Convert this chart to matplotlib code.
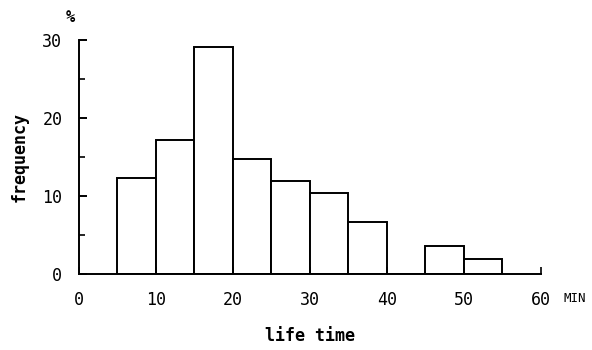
import matplotlib.pyplot as plt
import numpy as np

# life time histogram (bins of 5 min)
bin_edges = [5, 10, 15, 20, 25, 30, 35, 40, 45, 50]
bin_width = 5
freq_pct = [12.3, 17.2, 29.1, 14.7, 11.9, 10.4, 6.7, 0.0, 3.6, 1.9]
x_ticks = [0, 10, 20, 30, 40, 50, 60]
y_ticks = [0, 10, 20, 30]
y_minor = [5, 15, 25]

MONO = "DejaVu Sans Mono"

fig = plt.figure(figsize=(5.92, 3.5), dpi=100)
ax = fig.add_axes([0.1334, 0.2171, 0.7804, 0.6686])

ax.bar(bin_edges, freq_pct, width=bin_width, align="edge",
       facecolor="white", edgecolor="black", linewidth=1.4)

ax.set_xlim(0, 60)
ax.set_ylim(0, 30)
for side in ["top", "right"]:
    ax.spines[side].set_visible(False)
for side in ["left", "bottom"]:
    ax.spines[side].set_linewidth(1.4)

ax.set_xticks(x_ticks)
ax.set_yticks(y_ticks)
ax.set_yticks(y_minor, minor=True)
ax.tick_params(axis="y", which="major", direction="in", length=6, width=1.4, pad=12)
ax.tick_params(axis="y", which="minor", direction="in", length=4, width=1.2)
ax.tick_params(axis="x", which="major", direction="in", length=5, width=1.2, pad=12)
for lbl in ax.get_xticklabels() + ax.get_yticklabels():
    lbl.set_fontfamily(MONO)
    lbl.set_fontsize(12)

ax.set_ylabel("frequency", fontfamily=MONO, fontsize=12, fontweight="bold", labelpad=10)
ax.set_xlabel("life time", fontfamily=MONO, fontsize=12, fontweight="bold", labelpad=13)

fig.text(70 / 592, 1 - 17 / 350, "%", fontfamily=MONO, fontsize=11, fontweight="bold",
         ha="center", va="center")
fig.text(563 / 592, 1 - 298 / 350, "MIN", fontfamily=MONO, fontsize=9,
         ha="left", va="center")

fig.savefig("out.png", dpi=100)
